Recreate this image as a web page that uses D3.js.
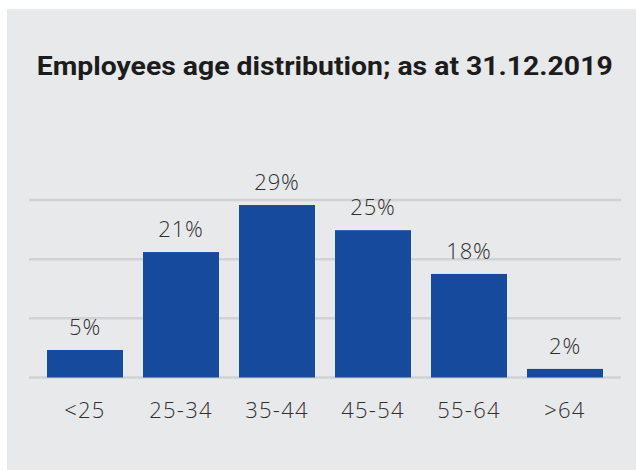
<!DOCTYPE html>
<html>
<head>
<meta charset="utf-8">
<script src="https://cdn.jsdelivr.net/npm/d3@7"></script>
<style>
  html, body { margin: 0; padding: 0; background: #ffffff; }
  svg { display: block; }
</style>
</head>
<body>
<svg id="chart" width="636" height="470"></svg>
<script>
const categories = ["<25", "25-34", "35-44", "45-54", "55-64", ">64"];
const values = [4.65, 21.2, 29.15, 24.9, 17.5, 1.45];
const valueLabels = ["5%", "21%", "29%", "25%", "18%", "2%"];
const gridTicks = [0, 10, 20, 30];
const titleText = "Employees age distribution; as at 31.12.2019";

const svg = d3.select("#chart");

svg.append("rect")
  .attr("x", 7).attr("y", 9)
  .attr("width", 629).attr("height", 461)
  .attr("fill", "#e8e9eb");

const x = d3.scaleBand()
  .domain(categories)
  .range([37, 613])
  .paddingInner(20 / 96)
  .paddingOuter(10 / 96);

const y = d3.scaleLinear()
  .domain([0, 30])
  .range([377.5, 200]);

// gridlines
svg.append("g")
  .selectAll("line")
  .data(gridTicks)
  .join("line")
  .attr("x1", 29).attr("x2", 621)
  .attr("y1", d => y(d)).attr("y2", d => y(d))
  .attr("stroke", "#d1d2d4")
  .attr("stroke-width", 2.5);

// bars
svg.append("g")
  .selectAll("rect")
  .data(values)
  .join("rect")
  .attr("x", (d, i) => x(categories[i]))
  .attr("width", x.bandwidth())
  .attr("y", d => y(d))
  .attr("height", d => y(0) - y(d))
  .attr("fill", "#154a9c");

const labelFont = "'Open Sans', Roboto, sans-serif";

// value labels
svg.append("g")
  .selectAll("text")
  .data(values)
  .join("text")
  .attr("x", (d, i) => x(categories[i]) + x.bandwidth() / 2)
  .attr("y", d => y(d) - 15)
  .attr("text-anchor", "middle")
  .attr("font-family", labelFont)
  .attr("font-weight", 300)
  .attr("font-size", 22)
  .attr("letter-spacing", 0.8)
  .attr("fill", "#2f2f2f")
  .text((d, i) => valueLabels[i]);

// x axis labels
const xAxis = d3.axisBottom(x).tickSize(0).tickPadding(0);
const gx = svg.append("g")
  .attr("transform", "translate(0,418)")
  .call(xAxis);
gx.select(".domain").remove();
gx.selectAll("text")
  .attr("dy", 0)
  .attr("y", 0)
  .attr("font-family", labelFont)
  .attr("font-weight", 300)
  .attr("font-size", 22)
  .attr("letter-spacing", 1.2)
  .attr("fill", "#2f2f2f");

// title
svg.append("text")
  .attr("x", 324.7)
  .attr("y", 75)
  .attr("text-anchor", "middle")
  .attr("font-family", "Roboto, 'Open Sans', sans-serif")
  .attr("font-weight", 700)
  .attr("font-size", 26)
  .attr("fill", "#1c1c1c")
  .attr("textLength", 576)
  .attr("lengthAdjust", "spacingAndGlyphs")
  .text(titleText);
</script>
</body>
</html>
